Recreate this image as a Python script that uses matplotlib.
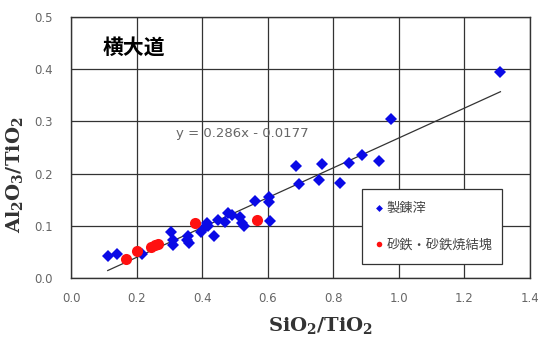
import numpy as np
import matplotlib.pyplot as plt
from matplotlib.lines import Line2D

plt.rcParams['font.family'] = ['DejaVu Sans', 'Noto Sans CJK JP']
plt.rcParams['mathtext.fontset'] = 'custom'
plt.rcParams['mathtext.bf'] = 'DejaVu Serif:bold'

# 製錬滓 (slag) points
slag_x = [0.112, 0.141, 0.218, 0.305, 0.312, 0.310, 0.353, 0.356, 0.361,
          0.398, 0.403, 0.414, 0.419, 0.436, 0.449, 0.470, 0.480, 0.490,
          0.515, 0.523, 0.528, 0.561, 0.604, 0.605, 0.607, 0.695, 0.685,
          0.756, 0.766, 0.820, 0.847, 0.888, 0.940, 0.976, 1.310]
slag_y = [0.043, 0.046, 0.046, 0.089, 0.063, 0.073, 0.073, 0.081, 0.068,
          0.089, 0.094, 0.106, 0.100, 0.081, 0.111, 0.108, 0.125, 0.121,
          0.117, 0.106, 0.100, 0.148, 0.156, 0.145, 0.110, 0.180, 0.214,
          0.187, 0.218, 0.183, 0.220, 0.236, 0.224, 0.305, 0.395]

# 砂鉄・砂鉄焼結塊 (iron sand / sinter) points
sand_x = [0.168, 0.200, 0.243, 0.256, 0.266, 0.378, 0.568]
sand_y = [0.036, 0.052, 0.060, 0.063, 0.065, 0.105, 0.112]

# trend line y = 0.286x - 0.0177
slope = 0.286
intercept = -0.0177
line_x = np.array([0.112, 1.31])

fig = plt.figure(figsize=(5.38, 3.38), dpi=100)
ax = fig.add_axes([0.132, 0.1775, 0.853, 0.772])

ax.plot(line_x, slope * line_x + intercept, color='#333333', lw=0.9, zorder=2)
ax.plot(slag_x, slag_y, 'D', color='#0a0ae6', markersize=6.5, markeredgewidth=0, zorder=3)
ax.plot(sand_x, sand_y, 'o', color='#ff1010', markersize=8, markeredgewidth=0, zorder=4)

ax.set_xlim(0, 1.4)
ax.set_ylim(0, 0.5)
ax.set_xticks(np.arange(0, 1.41, 0.2))
ax.set_yticks(np.arange(0, 0.51, 0.1))
ax.xaxis.set_major_formatter(plt.FormatStrFormatter('%.1f'))
ax.yaxis.set_major_formatter(plt.FormatStrFormatter('%.1f'))
ax.tick_params(length=0, labelsize=8.5, labelcolor='#666666')
ax.tick_params(axis='y', pad=13)
ax.tick_params(axis='x', pad=10)
ax.grid(True, color='#333333', lw=0.9)
ax.set_axisbelow(True)
for s in ax.spines.values():
    s.set_color('#333333')
    s.set_linewidth(1.0)

ax.set_xlabel(r'SiO$\mathbf{_2}$/TiO$\mathbf{_2}$', family='DejaVu Serif',
              fontweight='bold', fontsize=14, color='#333333')
ax.xaxis.set_label_coords(0.543, -0.14)
ax.set_ylabel(r'Al$\mathbf{_2}$O$\mathbf{_3}$/TiO$\mathbf{_2}$', family='DejaVu Serif',
              fontweight='bold', fontsize=14, color='#333333')
ax.yaxis.set_label_coords(-0.1, 0.395)

ax.text(0.095, 0.443, '横大道', fontsize=15, fontweight='bold',
        family=['Noto Sans CJK JP'], va='center', ha='left')
ax.text(0.32, 0.276, 'y = 0.286x - 0.0177', fontsize=9.5, color='#666666',
        va='center', ha='left')

handles = [Line2D([], [], marker='D', ls='', color='#0a0ae6', markersize=3.5, markeredgewidth=0),
           Line2D([], [], marker='o', ls='', color='#ff1010', markersize=4, markeredgewidth=0)]
leg = ax.legend(handles, ['製錬滓', '砂鉄・砂鉄焼結塊'], loc='lower left',
                bbox_to_anchor=(0.633, 0.052, 0.307, 0.282), mode='expand',
                borderaxespad=0,
                prop={'family': ['Noto Sans CJK JP'], 'size': 9.5},
                fancybox=False, edgecolor='#333333', framealpha=1,
                labelspacing=1.75, handlelength=0.6, handletextpad=0.3,
                borderpad=1.0, labelcolor='#444444')
leg.get_frame().set_linewidth(0.9)

fig.savefig('out.png', dpi=100)
